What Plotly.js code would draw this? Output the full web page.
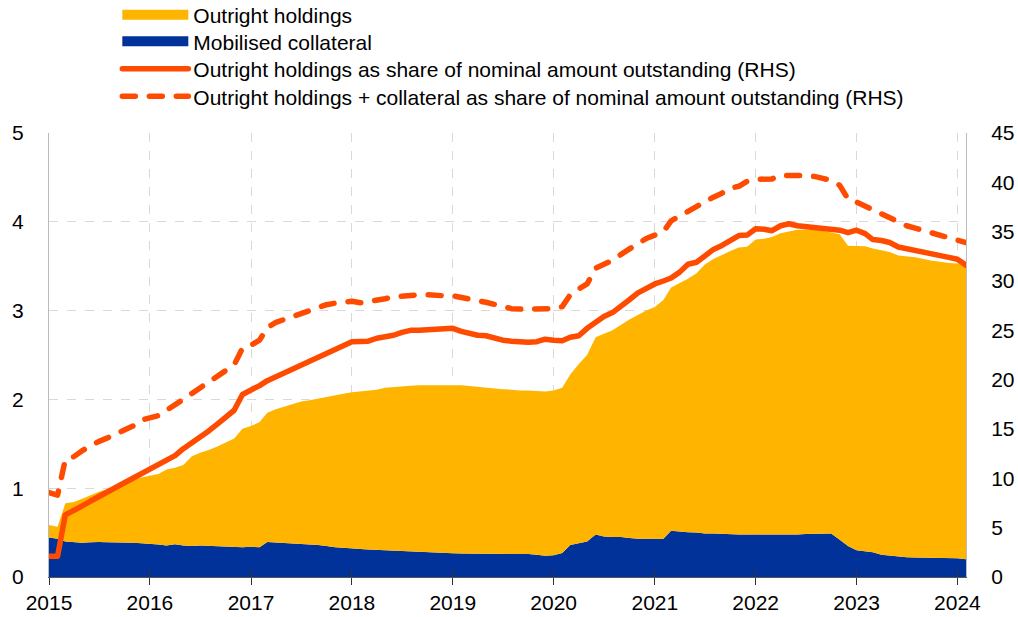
<!DOCTYPE html>
<html><head><meta charset="utf-8">
<script src="https://cdn.plot.ly/plotly-3.0.1.min.js"></script>
<style>
body{margin:0;background:#fff}
#chart{width:1018px;height:617px}
.scatterlayer .js-line{stroke-linecap:round;stroke-linejoin:round}
</style>
</head><body>
<div id="chart"></div>
<script>
// Monthly observations, Jan 2015 - Feb 2024 (EUR trillions, LHS)
const mobilisedCollateral = [
0.445,0.43,0.40,0.39,0.385,0.39,0.395,0.39,0.39,0.39,0.385,0.38,
0.375,0.365,0.355,0.37,0.355,0.35,0.355,0.35,0.345,0.34,0.34,0.335,
0.34,0.335,0.395,0.39,0.385,0.38,0.375,0.37,0.36,0.35,0.335,0.33,
0.32,0.315,0.31,0.305,0.30,0.30,0.295,0.29,0.285,0.28,0.275,0.27,
0.268,0.266,0.265,0.265,0.265,0.265,0.262,0.26,0.26,0.258,0.25,0.24,
0.245,0.27,0.36,0.38,0.40,0.48,0.455,0.45,0.45,0.44,0.43,0.43,
0.43,0.43,0.52,0.51,0.505,0.50,0.49,0.49,0.485,0.483,0.48,0.48,
0.48,0.478,0.476,0.475,0.476,0.48,0.485,0.485,0.485,0.49,0.42,0.35,
0.30,0.285,0.28,0.25,0.24,0.23,0.222,0.22,0.218,0.216,0.215,0.212,
0.21,0.20];
const outrightHoldings = [
0.14,0.135,0.43,0.455,0.495,0.53,0.565,0.60,0.64,0.69,0.715,0.74,
0.765,0.795,0.855,0.86,0.905,1.01,1.045,1.08,1.125,1.17,1.22,1.335,
1.36,1.41,1.455,1.50,1.535,1.57,1.60,1.62,1.65,1.68,1.715,1.735,
1.76,1.775,1.79,1.805,1.83,1.84,1.855,1.865,1.875,1.88,1.885,1.885,
1.892,1.894,1.885,1.875,1.865,1.855,1.853,1.85,1.84,1.842,1.845,1.85,
1.855,1.86,1.92,2.02,2.10,2.22,2.285,2.33,2.39,2.46,2.52,2.57,
2.61,2.69,2.74,2.80,2.855,2.92,3.03,3.09,3.145,3.187,3.23,3.24,
3.32,3.332,3.354,3.395,3.414,3.43,3.425,3.425,3.415,3.39,3.44,3.38,
3.43,3.44,3.42,3.43,3.42,3.39,3.388,3.38,3.362,3.344,3.335,3.323,
3.32,3.32];
// Shares of nominal amount outstanding (%, RHS)
const outrightShare = [
2.1,2.1,6.3,6.7,7.2,7.7,8.2,8.6,9.1,9.55,10.0,10.5,
10.9,11.3,11.7,12.3,13.0,13.6,14.1,14.8,15.5,16.2,16.9,18.5,
18.9,19.4,19.9,20.3,20.7,21.2,21.5,21.9,22.3,22.8,23.2,23.5,
23.85,23.87,23.9,24.2,24.3,24.5,24.8,25.0,25.0,25.1,25.1,25.15,
25.2,24.9,24.65,24.5,24.45,24.2,24.0,23.9,23.8,23.8,23.85,24.1,
24.0,23.95,24.3,24.45,25.2,25.8,26.4,26.8,27.4,28.1,28.8,29.3,
29.7,30.0,30.3,30.9,31.7,31.9,32.6,33.2,33.6,34.1,34.6,34.65,
35.3,35.25,35.1,35.6,35.8,35.6,35.5,35.5,35.4,35.2,35.15,34.9,
35.15,34.8,34.2,34.1,33.9,33.45,33.3,33.1,32.9,32.7,32.55,32.4,
32.2,31.6];
const outrightPlusCollateralShare = [
8.55,8.3,11.9,12.2,12.8,13.3,13.75,14.1,14.5,14.9,15.3,15.9,
16.15,16.35,16.9,17.4,18.0,18.6,19.2,19.7,20.3,20.9,21.5,23.2,
23.5,24.0,25.3,25.8,26.1,26.4,26.8,27.0,27.3,27.6,27.75,27.9,
27.95,27.8,27.9,28.1,28.2,28.4,28.5,28.55,28.6,28.6,28.5,28.5,
28.5,28.3,28.1,28.0,27.85,27.6,27.4,27.2,27.15,27.15,27.15,27.2,
27.2,27.4,28.6,29.2,29.7,31.3,31.7,32.1,32.7,33.3,33.8,34.3,
34.6,35.0,36.1,36.6,37.0,37.6,38.1,38.5,38.9,39.4,39.6,40.1,
40.3,40.3,40.35,40.7,40.75,40.7,40.65,40.6,40.4,40.2,39.7,38.3,
38.0,37.6,37.2,36.7,36.3,36.0,35.6,35.35,35.1,34.9,34.7,34.4,
34.1,33.9];
const yearLabels = ['2015','2016','2017','2018','2019','2020','2021','2022','2023','2024'];
const seriesNames = ['Outright holdings','Mobilised collateral',
  'Outright holdings as share of nominal amount outstanding (RHS)',
  'Outright holdings + collateral as share of nominal amount outstanding (RHS)'];

const months = [];
for (let i = 0; i < mobilisedCollateral.length; i++) {
  const y = 2015 + Math.floor(i / 12), m = i % 12 + 1;
  months.push(y + '-' + String(m).padStart(2, '0') + '-01');
}
const YELLOW = '#ffb400', BLUE = '#003299', ORANGE = '#ff4b00';
const FONT = 'Liberation Sans, Arial, sans-serif';

const traces = [
  {x: months, y: mobilisedCollateral, type: 'scatter', mode: 'lines', stackgroup: 'a',
   line: {width: 0, color: BLUE}, fillcolor: BLUE, showlegend: false, hoverinfo: 'skip'},
  {x: months, y: outrightHoldings, type: 'scatter', mode: 'lines', stackgroup: 'a',
   line: {width: 0, color: YELLOW}, fillcolor: YELLOW, showlegend: false, hoverinfo: 'skip'},
  {x: months, y: outrightShare, type: 'scatter', mode: 'lines', yaxis: 'y2',
   line: {width: 5.5, color: ORANGE}, name: seriesNames[2], legend: 'legend3'},
  {x: months, y: outrightPlusCollateralShare, type: 'scatter', mode: 'lines', yaxis: 'y2',
   line: {width: 5.5, color: ORANGE, dash: '13px,14px'}, name: seriesNames[3], legend: 'legend4'},
  {x: [null], y: [null], type: 'scatter', mode: 'lines', line: {width: 10, color: YELLOW},
   name: seriesNames[0], legend: 'legend'},
  {x: [null], y: [null], type: 'scatter', mode: 'lines', line: {width: 10, color: BLUE},
   name: seriesNames[1], legend: 'legend2'},
  {x: [null], y: [null], type: 'scatter', mode: 'lines', xaxis: 'x2', yaxis: 'y',
   showlegend: false, hoverinfo: 'skip'}
];

const legendBase = (y) => ({x: 0.0745, xanchor: 'left', y: y, yanchor: 'top', bgcolor: 'rgba(0,0,0,0)',
  font: {family: FONT, size: 21, color: '#000'}, itemwidth: 66, tracegroupgap: 0});

const yearTicks = yearLabels.map(y => y + '-01-01');
const layout = {
  width: 1018, height: 617,
  margin: {l: 49, r: 52, t: 133, b: 40, autoexpand: false},
  paper_bgcolor: '#fff', plot_bgcolor: '#fff',
  font: {family: FONT, size: 21, color: '#000'},
  showlegend: true,
  legend: legendBase(1.3119),
  legend2: legendBase(1.2518),
  legend3: legendBase(1.1903),
  legend4: legendBase(1.1279),
  xaxis: {type: 'date', range: ['2015-01-01', '2024-02-01'], tickvals: yearTicks, ticktext: yearLabels,
          showgrid: true, gridcolor: '#d9d9d9', griddash: 'dash', gridwidth: 1,
          ticks: 'outside', ticklen: 7, tickcolor: '#333', showline: true, linecolor: '#555',
          zeroline: false, tickfont: {size: 21}},
  xaxis2: {type: 'date', range: ['2015-01-01', '2024-02-01'], overlaying: 'x', anchor: 'y', side: 'bottom',
           tickvals: yearTicks, ticks: 'inside', ticklen: 7, tickcolor: '#333', showticklabels: false,
           showgrid: false, showline: false, zeroline: false},
  yaxis: {range: [0, 5], dtick: 1, showgrid: true, gridcolor: '#d9d9d9', griddash: 'dash',
          showline: true, linecolor: '#bbb', ticks: '', zeroline: false, ticklabelstandoff: 20,
          tickfont: {size: 21}},
  yaxis2: {range: [0, 45], dtick: 5, overlaying: 'y', side: 'right', showgrid: false,
           showline: true, linecolor: '#bbb', ticks: '', zeroline: false, ticklabelstandoff: 20,
           tickfont: {size: 21}}
};
Plotly.newPlot('chart', traces, layout, {staticPlot: true}).then(() => {
  document.querySelectorAll('.legendlines path').forEach((p) => {
    const d = p.__data__;
    let name = null;
    try { name = d[0].trace.name; } catch (e) {}
    if (name === seriesNames[2] || name === seriesNames[3]) p.style.strokeLinecap = 'round';
  });
});
</script>
</body></html>
